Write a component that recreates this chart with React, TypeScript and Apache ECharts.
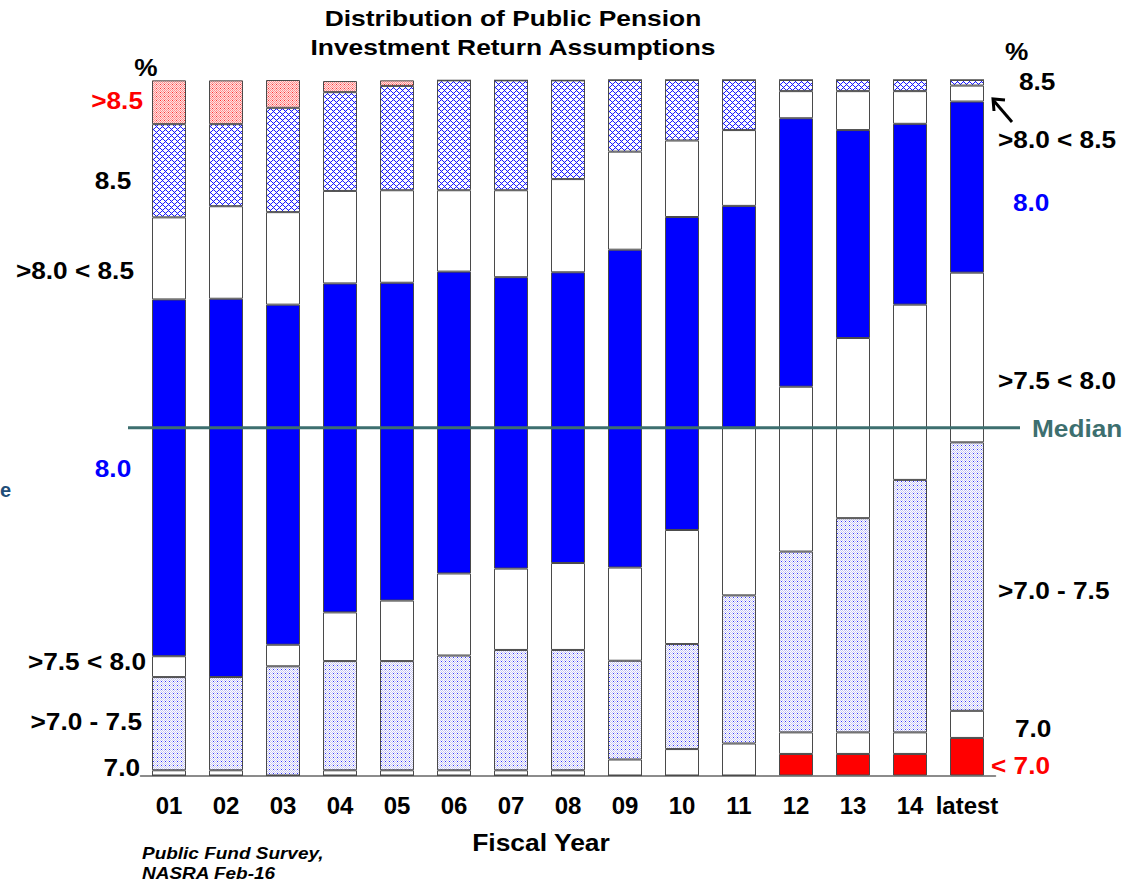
import React, { useEffect, useRef } from 'react';
import * as echarts from 'echarts';

// Fiscal years (categories)
const years = ['01', '02', '03', '04', '05', '06', '07', '08', '09', '10', '11', '12', '13', '14', 'latest'];

// Percent of plans by assumed return (stacked bottom to top)
const lt70 = [0, 0, 0, 0, 0, 0, 0, 0, 0, 0, 0, 3.1, 3.1, 3.1, 5.4];
const s70 = [0.75, 0.75, 0, 0.75, 0.75, 0.75, 0.75, 0.75, 2.3, 3.8, 4.6, 3.1, 3.1, 3.1, 3.9];
const s70to75 = [13.4, 13.4, 15.7, 15.7, 15.7, 16.5, 17.3, 17.3, 14.2, 15.1, 21.3, 26.0, 30.8, 36.3, 38.6];
const s75to80 = [3.0, 0, 3.1, 7.0, 8.7, 11.8, 11.7, 12.5, 13.4, 16.4, 24.1, 23.7, 25.9, 25.2, 24.4];
const s80 = [51.3, 54.4, 48.9, 47.3, 45.7, 43.4, 41.9, 41.8, 45.7, 45.0, 31.9, 38.6, 29.9, 26.0, 24.6];
const s80to85 = [11.8, 13.3, 13.3, 13.3, 13.3, 11.7, 12.5, 13.4, 14.1, 11.0, 10.9, 3.9, 5.6, 4.7, 2.3];
const s85 = [13.4, 11.8, 15.0, 14.2, 15.0, 15.8, 15.8, 14.2, 10.3, 8.7, 7.2, 1.6, 1.6, 1.6, 0.8];
const gt85 = [6.3, 6.3, 4.0, 1.6, 0.8, 0, 0, 0, 0, 0, 0, 0, 0, 0, 0];

const medianValue = 50;

const FONT = '"Liberation Sans", Arial, Helvetica, sans-serif';

function makeTile(size: number, fn: (x: number, y: number) => string): string {
  const c = document.createElement('canvas');
  c.width = size;
  c.height = size;
  const ctx = c.getContext('2d')!;
  for (let y = 0; y < size; y++) {
    for (let x = 0; x < size; x++) {
      ctx.fillStyle = fn(x, y);
      ctx.fillRect(x, y, 1, 1);
    }
  }
  return c.toDataURL();
}

export default function App() {
  const ref = useRef<HTMLDivElement>(null);

  useEffect(() => {
    document.body.style.margin = '0';
    document.body.style.overflow = 'hidden';
    if (!ref.current) return;
    const chart = echarts.init(ref.current, undefined, { renderer: 'svg' });

    const crossImg = makeTile(6, (x, y) => {
      const a = (x + y) % 6;
      const b = (x - y + 6) % 6;
      if (a === 0 || b === 0) return '#1a1aff';
      if ((a === 1 && b === 5) || (a === 5 && b === 1)) return '#c8c8ff';
      return '#ffffff';
    });
    const dotImg = makeTile(4, (x, y) => {
      if (x === 1 && y === 1) return '#3030ff';
      if ((x + y) % 2 === 0) return '#c8c8f4';
      return '#ffffff';
    });
    const redImg = makeTile(4, (x, y) => {
      if (x === 0 && y === 0) return '#ff3030';
      if ((x + y) % 2 === 0) return '#ff9090';
      return '#ffe2e2';
    });

    const pat = (img: string, s: number) => ({ image: img, repeat: 'repeat', imageWidth: s, imageHeight: s });

    const mk = (name: string, data: number[], color: any) => ({
      name,
      type: 'bar',
      stack: 'total',
      data,
      barWidth: 34,
      itemStyle: { color, borderColor: '#4a4a4a', borderWidth: 1 },
      emphasis: { disabled: true },
    });

    chart.setOption({
      animation: false,
      grid: { left: 140.5, right: 132.5, top: 80, bottom: 107.5 },
      xAxis: {
        type: 'category',
        data: years,
        axisTick: { show: false },
        axisLine: { lineStyle: { color: '#666', width: 1.5 } },
        axisLabel: { interval: 0, fontSize: 24, fontWeight: 'bold', color: '#000', fontFamily: FONT, margin: 18 },
      },
      yAxis: { type: 'value', min: 0, max: 100, show: false },
      series: [
        mk('< 7.0', lt70, '#ff0000'),
        mk('7.0', s70, '#ffffff'),
        mk('>7.0 - 7.5', s70to75, pat(dotImg, 4)),
        mk('>7.5 < 8.0', s75to80, '#ffffff'),
        mk('8.0', s80, '#0000ff'),
        mk('>8.0 < 8.5', s80to85, '#ffffff'),
        mk('8.5', s85, pat(crossImg, 6)),
        mk('>8.5', gt85, pat(redImg, 4)),
      ],
    });

    const medY = (chart.convertToPixel({ yAxisIndex: 0 } as any, medianValue) as any) as number;

    const T = (text: string, x: number, y: number, size: number, fill: string, align: string, sx = 1.14, extra: any = {}) => ({
      type: 'text',
      x,
      y,
      scaleX: sx,
      z: 100,
      style: {
        text,
        font: `bold ${size}px ${FONT}`,
        fill,
        align,
        textAlign: align,
        verticalAlign: 'middle',
        textVerticalAlign: 'middle',
        ...extra,
      },
    });

    const black = '#000000';
    const blue = '#0000ff';
    const red = '#ff0000';
    const teal = '#3d6f6f';

    chart.setOption({
      graphic: [
        { type: 'line', z: 90, shape: { x1: 128, y1: medY, x2: 1020, y2: medY }, style: { stroke: teal, lineWidth: 3 } },
        T('Distribution of Public Pension', 513, 18, 22, black, 'center', 1.2),
        T('Investment Return Assumptions', 513, 47, 22, black, 'center', 1.2),
        // left labels
        T('%', 146, 68, 23, black, 'center'),
        T('>8.5', 143, 101, 23, red, 'right'),
        T('8.5', 113, 181, 23, black, 'center'),
        T('>8.0 < 8.5', 134, 271, 23, black, 'right'),
        T('8.0', 113, 469, 23, blue, 'center'),
        T('>7.5 < 8.0', 146, 662, 23, black, 'right'),
        T('>7.0 - 7.5', 142, 722, 23, black, 'right'),
        T('7.0', 140, 768, 23, black, 'right'),
        // right labels
        T('%', 1005, 52, 23, black, 'left'),
        T('8.5', 1019, 82, 23, black, 'left'),
        T('>8.0 < 8.5', 998, 140, 23, black, 'left'),
        T('8.0', 1013, 203, 23, blue, 'left'),
        T('>7.5 < 8.0', 998, 381, 23, black, 'left'),
        T('Median', 1032, 429, 23, teal, 'left'),
        T('>7.0 - 7.5', 998, 591, 23, black, 'left'),
        T('7.0', 1015, 729, 23, black, 'left'),
        T('< 7.0', 991, 766, 23, red, 'left'),
        // arrow
        { type: 'line', z: 100, shape: { x1: 1012, y1: 122, x2: 994, y2: 101 }, style: { stroke: black, lineWidth: 3 } },
        { type: 'polyline', z: 100, shape: { points: [[1005, 100], [993, 99], [994, 111]] }, style: { stroke: black, lineWidth: 3, fill: null } },
        // axis title
        T('Fiscal Year', 541, 843, 23, black, 'center', 1.15),
        // source
        T('Public Fund Survey,', 142, 853, 16.5, black, 'left', 1.15, { font: `italic bold 16.5px ${FONT}` }),
        T('NASRA Feb-16', 142, 873, 16.5, black, 'left', 1.15, { font: `italic bold 16.5px ${FONT}` }),
        // letter at left edge (partially visible in the reference)
        T('e', 0, 490, 20, '#1f4e79', 'left', 1),
      ],
    });

    return () => {
      chart.dispose();
    };
  }, []);

  return <div ref={ref} style={{ width: 1128, height: 883 }} />;
}
